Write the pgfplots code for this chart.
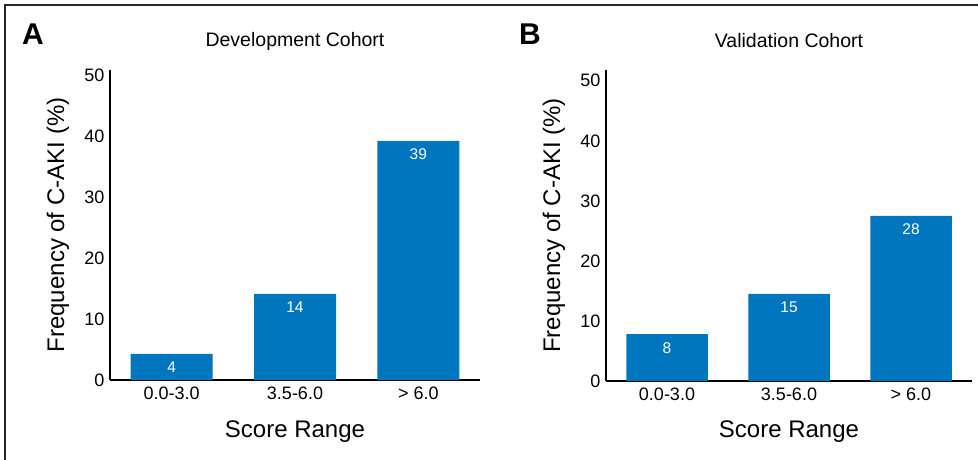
\documentclass[border=0pt]{standalone}
\usepackage{pgfplots}
\pgfplotsset{compat=1.18}
\usepackage{fontspec}
\setmainfont{Liberation Sans}
\definecolor{barblue}{RGB}{0,118,190}
\pgfplotsset{
 myax/.style={
  scale only axis, ybar,
  xmin=-0.5, xmax=2.5, ymin=0,
  xtick={0,1,2}, xticklabels={0.0-3.0,3.5-6.0,{> 6.0}},
  ytick={0,10,...,50},
  axis x line=bottom, axis y line=left,
  axis line style={-, line width=2pt},
  major tick length=0pt,
  /pgf/number format/assume math mode=true,
  ticklabel style={font=\fontsize{18}{21}\selectfont},
  xticklabel style={yshift=-3pt},
  yticklabel style={xshift=-2pt},
  xlabel={Score Range}, ylabel={Frequency of C-AKI (\%)},
  label style={font=\fontsize{24}{28}\selectfont},
  title style={font=\fontsize{19.5}{22}\selectfont, anchor=center},
  nodes near coords, point meta=explicit symbolic,
  every node near coord/.append style={anchor=center, yshift=-13.5pt, text=white, font=\fontsize{15.5}{18}\selectfont},
  anchor=south west, clip=false,
 }}
\begin{document}
\begin{tikzpicture}[x=1pt,y=1pt]
\useasboundingbox (0,0) rectangle (978,460);
\draw[line width=1.3pt, black!85] (5,0) -- (5,455) -- (978,455);
\node[font=\fontsize{30}{32}\selectfont\bfseries] at (33,426) {A};
\node[font=\fontsize{30}{32}\selectfont\bfseries] at (530,426) {B};
\begin{axis}[myax, at={(110pt,80pt)}, width=370pt, height=310pt, ymax=50.8, bar width=82pt,
  title={Development Cohort}, title style={at={(axis description cs:0.5,1.074)}},
  xlabel style={at={(axis description cs:0.5,-0.168)}, anchor=center},
  ylabel style={at={(axis description cs:-0.1405,0.5)}, anchor=center}]
\addplot[fill=barblue, draw=none] table[x=x, y=y, meta=lab] {
x y lab
0 4.3 4
1 14.1 14
2 39.2 39
};
\end{axis}
\begin{axis}[myax, at={(606pt,79pt)}, width=366pt, height=311pt, ymax=51.8, bar width=81.5pt,
  title={Validation Cohort}, title style={at={(axis description cs:0.5,1.077)}},
  xlabel style={at={(axis description cs:0.5,-0.164)}, anchor=center},
  ylabel style={at={(axis description cs:-0.142,0.5)}, anchor=center}]
\addplot[fill=barblue, draw=none] table[x=x, y=y, meta=lab] {
x y lab
0 7.8 8
1 14.5 15
2 27.5 28
};
\end{axis}
\end{tikzpicture}
\end{document}
